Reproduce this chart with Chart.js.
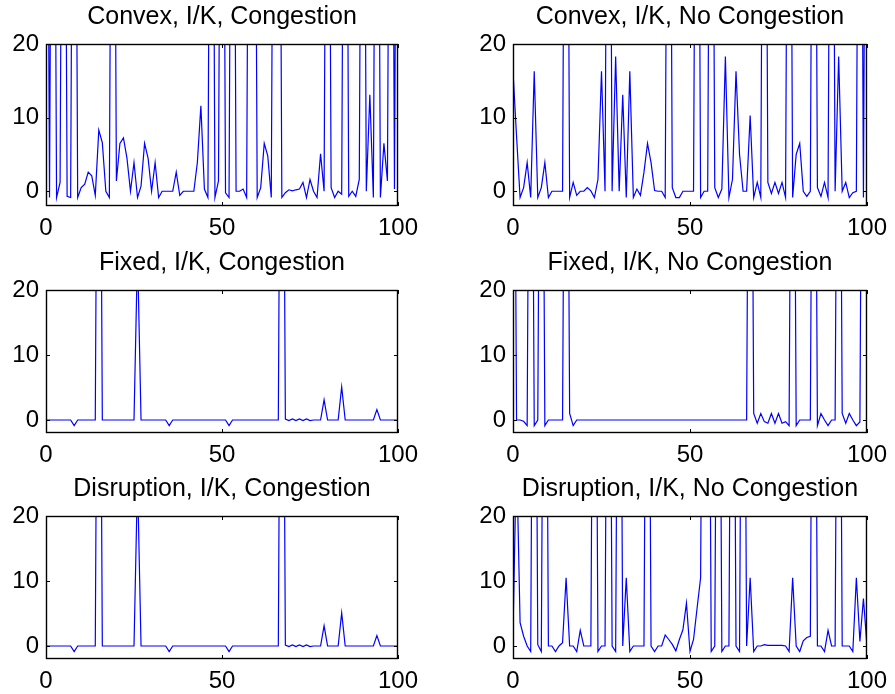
<!DOCTYPE html>
<html>
<head>
<meta charset="utf-8">
<script src="https://cdn.jsdelivr.net/npm/chart.js@4.4.1/dist/chart.umd.min.js"></script>
<style>
html, body { margin: 0; padding: 0; background: #fff; overflow: hidden; }
#wrap { position: relative; width: 895px; height: 694px; }
canvas { position: absolute; }
</style>
</head>
<body>
<div id="wrap">
  <canvas id="c1" width="445" height="244" style="left:0;top:0"></canvas>
  <canvas id="c2" width="448" height="244" style="left:447px;top:0"></canvas>
  <canvas id="c3" width="445" height="225" style="left:0;top:246px"></canvas>
  <canvas id="c4" width="448" height="225" style="left:447px;top:246px"></canvas>
  <canvas id="c5" width="445" height="225" style="left:0;top:472px"></canvas>
  <canvas id="c6" width="448" height="225" style="left:447px;top:472px"></canvas>
</div>
<script>
// periods 0..100
var steps = Array.from({ length: 101 }, function (_, i) { return i; });
var xTicks = [0, 50, 100];
var yTicks = [0, 10, 20];

// values above 20 run off the top of each panel
var convexCong = [
  100, -0.85, 100, -0.85, 1.2, 100, -0.7, -0.85, 100, -0.85,
  0.5, 0.95, 2.6, 2.1, -0.55, 8.3, 6.6, 0, -0.85, 100,
  1.4, 6.5, 7.25, 4.5, 0, 3.9, -0.85, 0.7, 6.5, 4.5,
  0, 3.9, -0.85, 0, 0, 0, 0, 2.6, -0.55, 0,
  0, 0, 0, 3.9, 11.6, 0.3, -0.85, 100, -0.85, 1.4,
  100, -0.2, -0.85, 100, 0, 0, 0.3, -0.85, 100, 100,
  -0.85, 0.5, 6.5, 4.8, -0.85, 100, 100, -0.85, -0.2, 0.2,
  0.05, 0.2, 0.3, 1.2, -0.85, 1.6, 0, -0.85, 5.1, 0,
  100, 0.5, -0.85, 0, -0.4, 100, -0.7, 0, -0.7, 1.6,
  100, 0, 13.1, -0.85, 100, -0.85, 6.5, 1.4, 100, 0.3,
  100
];
var convexNoCong = [
  16.3, 7.5, -0.85, 0.5, 3.9, -0.85, 16.3, -0.85, 0.5, 3.9,
  -0.85, 0, 0, 0, 0, 100, -0.85, 1.2, -0.55, 0,
  0, 0.5, 0.05, -0.85, 1.6, 16.3, 0, 100, 0, 18.3,
  0, 13.1, -0.85, 16.3, -0.85, 0.3, -0.55, 2.6, 6.5, 3.9,
  0.1, 0, 0, -0.85, 100, 0.5, -0.85, -0.85, 0, 0,
  0, 0, 100, -0.85, 0, 0, 100, 0.5, -0.85, 0.3,
  18.3, -0.85, 1.6, 16.3, 5, 0, 0, 10.3, -0.85, 1.2,
  -0.85, 100, 1.2, -0.3, 1.2, -0.3, 1.2, -0.85, 100, -0.85,
  5, 6.5, 0, -0.7, 0, 100, 0.5, -0.7, 1.2, -0.85,
  100, 0, 18.3, 0, 1.2, -0.85, -0.2, 0, 100, -0.85,
  100
];
var fixedCong = [
  0, 0, 0, 0, 0, 0, 0, 0, -0.87, 0,
  0, 0, 0, 0, 0, 100, 0, 0, 0, 0,
  0, 0, 0, 0, 0, 0, 26, 0, 0, 0,
  0, 0, 0, 0, 0, -0.87, 0, 0, 0, 0,
  0, 0, 0, 0, 0, 0, 0, 0, 0, 0,
  0, 0, -0.87, 0, 0, 0, 0, 0, 0, 0,
  0, 0, 0, 0, 0, 0, 0, 100, 0.15, -0.1,
  0.15, -0.1, 0.15, -0.1, 0.15, -0.1, 0, 0, 0, 3.1,
  0, 0, 0, 0, 5.1, 0, 0, 0, 0, 0,
  0, 0, 0, 0, 1.6, 0, 0, 0, 0, 0,
  0
];
var fixedNoCong = [
  100, 0, 0, -0.2, -0.87, 100, -0.87, 0, 100, -0.87,
  0, 0, 0, 0, 0, 100, 1.0, -0.87, 0, 0,
  0, 0, 0, 0, 0, 0, 0, 0, 0, 0,
  0, 0, 0, 0, 0, 0, 0, 0, 0, 0,
  0, 0, 0, 0, 0, 0, 0, 0, 0, 0,
  0, 0, 0, 0, 0, 0, 0, 0, 0, 0,
  0, 0, 0, 0, 0, 0, 0, 100, 1.0, -0.5,
  1.0, -0.25, -0.5, 1.0, -0.5, 1.0, -0.5, -0.25, -0.87, 100,
  -0.87, 0, 0, 0, 0, 100, -0.87, 1.0, 0, -0.87,
  0, 0, 100, 1.0, -0.5, 1.0, 0, -0.87, -0.3, 100,
  100
];
var disruptCong = [
  0, 0, 0, 0, 0, 0, 0, 0, -0.87, 0,
  0, 0, 0, 0, 0, 100, 0, 0, 0, 0,
  0, 0, 0, 0, 0, 0, 26, 0, 0, 0,
  0, 0, 0, 0, 0, -0.87, 0, 0, 0, 0,
  0, 0, 0, 0, 0, 0, 0, 0, 0, 0,
  0, 0, -0.87, 0, 0, 0, 0, 0, 0, 0,
  0, 0, 0, 0, 0, 0, 0, 100, 0.15, -0.1,
  0.15, -0.1, 0.15, -0.1, 0.15, -0.1, 0, 0, 0, 3.1,
  0, 0, 0, 0, 5.1, 0, 0, 0, 0, 0,
  0, 0, 0, 0, 1.6, 0, 0, 0, 0, 0,
  0
];
var disruptNoCong = [
  2, 30, 3.6, 1.5, 0, -0.85, 100, 0.2, -0.85, 100,
  0, 0, -0.85, 0, 0.5, 10.5, 0, 0, -0.85, 2.4,
  0, 0, 0, 100, -0.85, 0, 0, 100, 0, -0.85,
  100, 0, 10.5, -0.85, 0, 0, 0, 0, 100, 0,
  -0.85, 0, 0, 1.7, 1.0, 0.25, -0.75, 1.0, 2.5, 6.6,
  -0.85, 1.0, 5.8, 10.5, 100, 100, -0.85, 0, 100, -0.85,
  0, 0, 100, 0, -0.85, 100, 0, 10.5, -0.85, 0,
  0, 0.2, 0.1, 0.1, 0.1, 0.1, 0.1, 0, -0.85, 10.5,
  0, -0.85, 0.8, 1.3, 1.5, 100, 0, 0, -0.85, 2.4,
  0, 0, 100, 0, 0, 0, -0.85, 10.5, 0.7, 7.3,
  0
];

var FONT = "'Liberation Sans', Arial, Helvetica, sans-serif";

// matlab style box with inward ticks
var boxPlugin = {
  id: 'box',
  afterDatasetsDraw: function (chart) {
    var ctx = chart.ctx, a = chart.chartArea;
    var sx = chart.scales.x, sy = chart.scales.y;
    ctx.save();
    ctx.strokeStyle = '#000';
    ctx.lineWidth = 1.4;
    ctx.strokeRect(a.left + 0.5, a.top + 0.5, a.right - a.left - 1, a.bottom - a.top - 1);
    ctx.lineWidth = 1;
    ctx.beginPath();
    sx.ticks.forEach(function (t) {
      var px = Math.round(sx.getPixelForValue(t.value)) + 0.5;
      ctx.moveTo(px, a.bottom); ctx.lineTo(px, a.bottom - 4);
      ctx.moveTo(px, a.top); ctx.lineTo(px, a.top + 4);
    });
    sy.ticks.forEach(function (t) {
      var py = Math.round(sy.getPixelForValue(t.value)) + 0.5;
      ctx.moveTo(a.left, py); ctx.lineTo(a.left + 4, py);
      ctx.moveTo(a.right, py); ctx.lineTo(a.right - 4, py);
    });
    ctx.stroke();
    ctx.restore();
  }
};

function makeChart(id, title, values, yW, padR) {
  return new Chart(document.getElementById(id), {
    type: 'line',
    data: {
      labels: steps,
      datasets: [{
        data: values,
        borderColor: '#0000ff',
        borderWidth: 1.2,
        pointRadius: 0,
        tension: 0,
        fill: false
      }]
    },
    options: {
      responsive: false,
      animation: false,
      layout: { padding: { left: 0, right: padR, top: 0, bottom: 0 } },
      plugins: {
        legend: { display: false },
        tooltip: { enabled: false },
        title: {
          display: true,
          text: title,
          color: '#000',
          fullSize: false,
          font: { family: FONT, size: 25, weight: 'normal' },
          padding: { top: 2, bottom: 12 }
        }
      },
      scales: {
        x: {
          type: 'linear', min: 0, max: 100,
          grid: { display: false, drawTicks: false },
          border: { display: false },
          afterBuildTicks: function (s) { s.ticks = xTicks.map(function (v) { return { value: v }; }); },
          afterFit: function (s) { s.height = 38; },
          ticks: { color: '#000', font: { family: FONT, size: 24 }, padding: 8, maxRotation: 0, autoSkip: false }
        },
        y: {
          min: -2, max: 20,
          grid: { display: false, drawTicks: false },
          border: { display: false },
          afterBuildTicks: function (s) { s.ticks = yTicks.map(function (v) { return { value: v }; }); },
          afterFit: function (s) { s.width = yW; },
          ticks: { color: '#000', font: { family: FONT, size: 24 }, padding: 7 }
        }
      }
    },
    plugins: [boxPlugin]
  });
}

makeChart('c1', 'Convex, I/K, Congestion', convexCong, 46, 47);
makeChart('c2', 'Convex, I/K, No Congestion', convexNoCong, 66, 28);
makeChart('c3', 'Fixed, I/K, Congestion', fixedCong, 46, 47);
makeChart('c4', 'Fixed, I/K, No Congestion', fixedNoCong, 66, 28);
makeChart('c5', 'Disruption, I/K, Congestion', disruptCong, 46, 47);
makeChart('c6', 'Disruption, I/K, No Congestion', disruptNoCong, 66, 28);
</script>
</body>
</html>
